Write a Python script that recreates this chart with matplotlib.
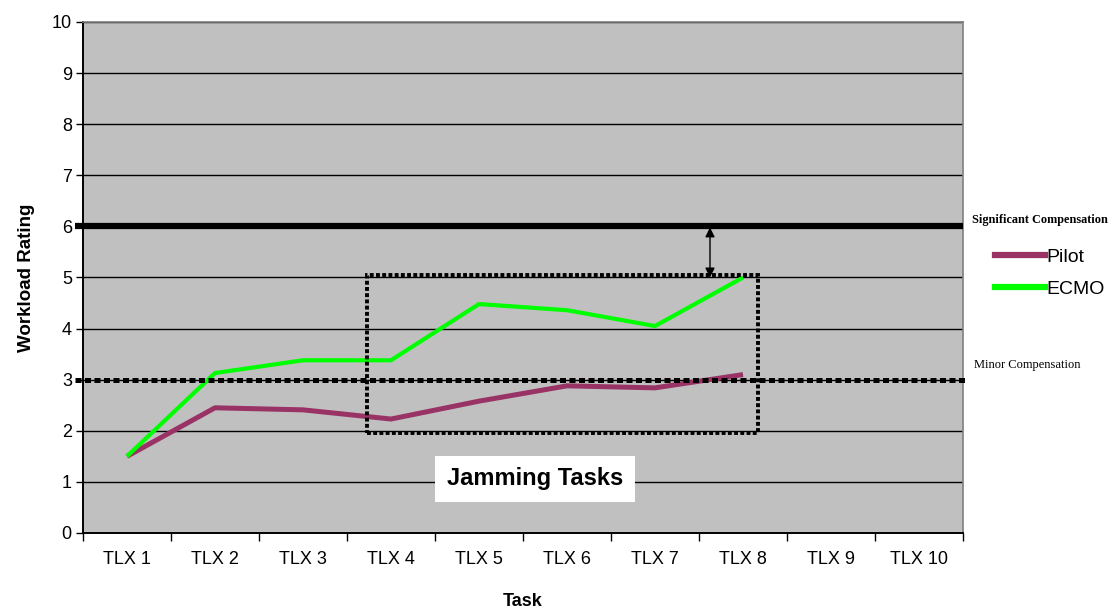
import matplotlib.pyplot as plt
from matplotlib.lines import Line2D
from matplotlib.patches import Rectangle

# Workload ratings per task
tasks = ['TLX 1', 'TLX 2', 'TLX 3', 'TLX 4', 'TLX 5',
         'TLX 6', 'TLX 7', 'TLX 8', 'TLX 9', 'TLX 10']
pilot = [1.5, 2.45, 2.41, 2.23, 2.58, 2.88, 2.84, 3.1]
ecmo = [1.5, 3.13, 3.38, 3.38, 4.48, 4.36, 4.05, 5.0]

significant = 6
minor = 3
# jamming block: task span and rating span
jam_x = (2.73, 7.17)
jam_y = (1.95, 5.05)

plt.rcParams['font.family'] = ['Liberation Sans', 'DejaVu Sans']

fig = plt.figure(figsize=(11.15, 6.09), dpi=100)
ax = fig.add_axes([0.0744, 0.1248, 0.7893, 0.8391])
ax.set_facecolor('#C0C0C0')

x = list(range(len(tasks)))
ax.set_xlim(-0.5, len(tasks) - 0.5)
ax.set_ylim(0, 10)

for y in range(1, 11):
    ax.axhline(y, color='black', lw=1.0, zorder=1)

ax.plot(x[:len(pilot)], pilot, color='#993366', lw=3.6, solid_capstyle='butt', zorder=3)
ax.plot(x[:len(ecmo)], ecmo, color='#00FF00', lw=3.0, solid_capstyle='butt', zorder=4)

# compensation thresholds
ax.plot([-0.59, 9.5], [significant, significant], color='black', lw=4.5,
        solid_capstyle='butt', clip_on=False, zorder=5)
ax.plot([-0.59, 9.56], [minor, minor], color='black', lw=3.6,
        linestyle=(0, (1.2, 0.7)), dash_capstyle='butt', clip_on=False, zorder=5)
ax.text(9.6, significant + 0.12, 'Significant Compensation', family='Liberation Serif',
        fontsize=8.8, fontweight='bold', ha='left', va='center')
ax.text(9.63, minor + 0.28, 'Minor Compensation', family='Liberation Serif',
        fontsize=9, ha='left', va='center')

# jamming tasks box
ax.add_patch(Rectangle((jam_x[0], jam_y[0]), jam_x[1] - jam_x[0], jam_y[1] - jam_y[0],
                       fill=False, ec='black', lw=2.8, linestyle=(0, (1, 0.6)), zorder=6))
ax.annotate('', xy=(6.625, significant - 0.02), xytext=(6.625, ecmo[-1]),
            arrowprops=dict(arrowstyle='<|-|>', color='black', lw=1.0,
                            mutation_scale=14, shrinkA=0, shrinkB=0), zorder=6)
ax.text(4.64, 1.06, 'Jamming Tasks', fontsize=17, fontweight='bold', ha='center', va='center',
        zorder=7, bbox=dict(boxstyle='square,pad=0.5', fc='white', ec='none'))

# axes styling
ax.set_yticks(range(0, 11))
ax.tick_params(axis='y', length=5, width=1, labelsize=13, pad=3)
ax.set_xticks([i - 0.5 for i in range(len(tasks) + 1)])
ax.set_xticklabels([])
ax.set_xticks(x, minor=True)
ax.set_xticklabels(tasks, minor=True, fontsize=13)
ax.tick_params(axis='x', which='major', length=6, width=1)
ax.tick_params(axis='x', which='minor', length=0, pad=13)
for side in ['left', 'bottom']:
    ax.spines[side].set_linewidth(1.4)
for side in ['top', 'right']:
    ax.spines[side].set_color('#808080')
    ax.spines[side].set_linewidth(1.2)

ax.set_ylabel('Workload Rating', fontsize=13.5, fontweight='bold', labelpad=12)
ax.set_xlabel('Task', fontsize=13, fontweight='bold', labelpad=18)

handles = [Line2D([], [], color='#993366', lw=4.5),
           Line2D([], [], color='#00FF00', lw=4.5)]
fig.legend(handles, ['Pilot', 'ECMO'], loc='upper left', bbox_to_anchor=(0.885, 0.605),
           frameon=False, fontsize=14, handlelength=2.6, handletextpad=0.05,
           labelspacing=0.75, borderaxespad=0)

fig.savefig('out.png', dpi=100)
